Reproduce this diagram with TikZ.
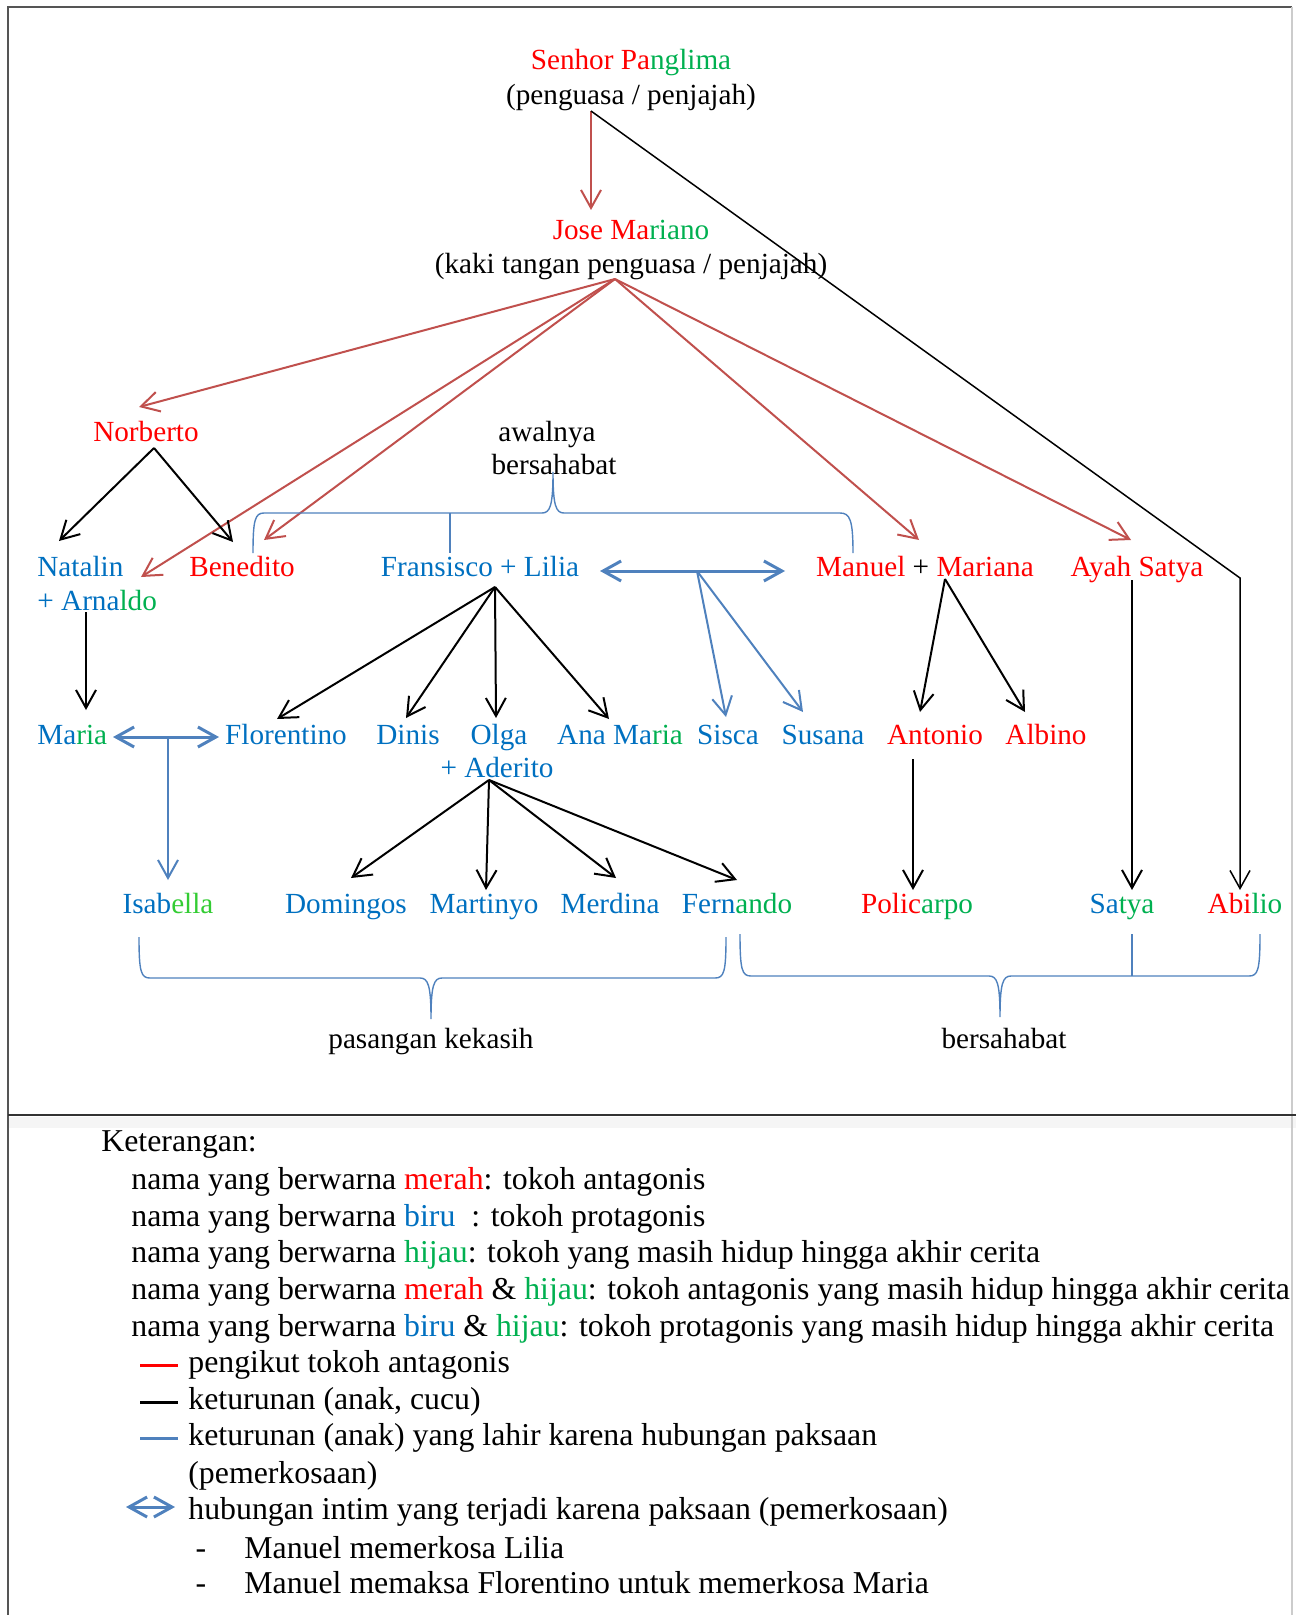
\documentclass[tikz,border=0pt]{standalone}
\usepackage{fontspec}
\setmainfont{Liberation Serif}
\usetikzlibrary{arrows.meta}
\definecolor{tred}{HTML}{FF0000}
\definecolor{tgreen}{HTML}{00B050}
\definecolor{tgreenb}{HTML}{33CC33}
\definecolor{tblue}{HTML}{0070C0}
\definecolor{lred}{HTML}{C0504D}
\definecolor{lblue}{HTML}{4F81BD}
\definecolor{framegray}{HTML}{555555}
\begin{document}
\begin{tikzpicture}[x=0.5pt,y=-0.5pt,
  every node/.style={inner sep=0pt, font=\fontsize{14.6}{17.5}\selectfont},
  lbl/.style={anchor=mid, yshift=-2.5pt},
  lblw/.style={anchor=mid west, yshift=-2.5pt},
  legw/.style={anchor=mid west, yshift=-2.5pt, font=\fontsize{15.9}{19}\selectfont},
  legc/.style={anchor=mid, yshift=-2.5pt, font=\fontsize{15.9}{19}\selectfont},
  openarr/.style={-{Straight Barb[length=9pt,width=10pt]}},
  redarr/.style={openarr, draw=lred, line width=1pt},
  blkarr/.style={openarr, draw=black, line width=1pt},
  bluearr/.style={openarr, draw=lblue, line width=1pt},
  dblblue/.style={{Straight Barb[length=9pt,width=10pt]}-{Straight Barb[length=9pt,width=10pt]}, draw=lblue, line width=1.5pt},
  bracepath/.style={draw=lblue, line width=0.7pt},
]
\useasboundingbox (0,0) rectangle (1296,1615);
% frame
\fill[gray!8] (9,1117) rectangle (1296,1128);
\draw[framegray, line width=1pt] (8,1615) -- (8,7) -- (1292,7);
\draw[gray!40, line width=1pt] (1292,7) -- (1292,1615);
\draw[black!80, line width=1pt] (8,1115) -- (1296,1115);

% nodes
\node[lbl] (senhor) at (631,60) {\textcolor{tred}{Senhor Pa}\textcolor{tgreen}{nglima}};
\node[lbl] (senhorsub) at (631,95) {(penguasa / penjajah)};
\node[lbl] (jose) at (631,230) {\textcolor{tred}{Jose Ma}\textcolor{tgreen}{riano}};
\node[lbl] (josesub) at (631,264) {(kaki tangan penguasa / penjajah)};
\node[lbl] (norberto) at (146,432) {\textcolor{tred}{Norberto}};
\node[lbl] (awal1) at (547,432) {awalnya};
\node[lbl] (awal2) at (554,465) {bersahabat};
\node[lblw] (natalin) at (37,567) {\textcolor{tblue}{Natalin}};
\node[lblw] (arnaldo) at (37,601) {\textcolor{tblue}{+ Arna}\textcolor{tgreen}{ldo}};
\node[lbl] (benedito) at (242,567) {\textcolor{tred}{Benedito}};
\node[lbl] (fransisco) at (480,567) {\textcolor{tblue}{Fransisco + Lilia}};
\node[lbl] (manuel) at (925,567) {\textcolor{tred}{Manuel} + \textcolor{tred}{Mariana}};
\node[lbl] (ayah) at (1137,567) {\textcolor{tred}{Ayah Satya}};

\node[lblw] (maria) at (37,735) {\textcolor{tblue}{Ma}\textcolor{tgreen}{ria}};
\node[lbl] (florentino) at (286,735) {\textcolor{tblue}{Florentino}};
\node[lbl] (dinis) at (408,735) {\textcolor{tblue}{Dinis}};
\node[lbl] (olga) at (499,735) {\textcolor{tblue}{Olga}};
\node[lbl] (aderito) at (497,768) {\textcolor{tblue}{+ Aderito}};
\node[lbl] (anamaria) at (620,735) {\textcolor{tblue}{Ana Ma}\textcolor{tgreen}{ria}};
\node[lbl] (sisca) at (728,735) {\textcolor{tblue}{Sisca}};
\node[lbl] (susana) at (823,735) {\textcolor{tblue}{Susana}};
\node[lbl] (antonio) at (935,735) {\textcolor{tred}{Antonio}};
\node[lbl] (albino) at (1046,735) {\textcolor{tred}{Albino}};

\node[lbl] (isabella) at (168,904) {\textcolor{tblue}{Isab}\textcolor{tgreenb}{ella}};
\node[lbl] (domingos) at (346,904) {\textcolor{tblue}{Domingos}};
\node[lbl] (martinyo) at (484,904) {\textcolor{tblue}{Martinyo}};
\node[lbl] (merdina) at (610,904) {\textcolor{tblue}{Merdina}};
\node[lbl] (fernando) at (737,904) {\textcolor{tblue}{Fern}\textcolor{tgreen}{ando}};
\node[lbl] (policarpo) at (917,904) {\textcolor{tred}{Polic}\textcolor{tgreen}{arpo}};
\node[lbl] (satya) at (1122,904) {\textcolor{tblue}{Sa}\textcolor{tgreen}{tya}};
\node[lbl] (abilio) at (1245,904) {\textcolor{tred}{Abi}\textcolor{tgreen}{lio}};

\node[lbl] (pasangan) at (431,1039) {pasangan kekasih};
\node[lbl] (sahabat) at (1004,1039) {bersahabat};

% connector end points
\coordinate (senhor-out) at (591,111);
\coordinate (jose-in) at (591,210);
\coordinate (jose-out) at (615,279);
\coordinate (norberto-in) at (139,407);
\coordinate (natalin-in) at (141,577);
\coordinate (benedito-in) at (264,540);
\coordinate (manuel-in) at (919,540);
\coordinate (ayah-in) at (1131,540);
\coordinate (abilio-bend) at (1240,578);
\coordinate (abilio-in) at (1240,890);
\coordinate (norberto-out) at (154,448);
\coordinate (natalin-top) at (59,541);
\coordinate (benedito-top) at (233,542);
\coordinate (arnaldo-out) at (86,612);
\coordinate (maria-in) at (86,710);
\coordinate (fran-out) at (495,587);
\coordinate (florentino-in) at (277,719);
\coordinate (dinis-in) at (406,718);
\coordinate (olga-in) at (496,718);
\coordinate (anamaria-in) at (609,719);
\coordinate (lilia-r) at (600,571);
\coordinate (manuel-l) at (785,571);
\coordinate (rape1) at (697,571);
\coordinate (sisca-in) at (726,717);
\coordinate (susana-in) at (803,712);
\coordinate (manuel-out) at (945,579);
\coordinate (antonio-in) at (920,712);
\coordinate (albino-in) at (1025,712);
\coordinate (ayah-out) at (1132,580);
\coordinate (satya-in) at (1132,890);
\coordinate (antonio-out) at (913,759);
\coordinate (policarpo-in) at (913,890);
\coordinate (aderito-out) at (489,780);
\coordinate (domingos-in) at (351,878);
\coordinate (martinyo-in) at (486,890);
\coordinate (merdina-in) at (616,878);
\coordinate (fernando-in) at (737,880);
\coordinate (maria-r) at (113,737);
\coordinate (florentino-l) at (219,737);
\coordinate (rape2) at (168,737);
\coordinate (isabella-in) at (168,880);

% red: followers
\draw[redarr] (senhor-out) -- (jose-in);
\draw[redarr] (jose-out) -- (norberto-in);
\draw[redarr] (jose-out) -- (natalin-in);
\draw[redarr] (jose-out) -- (benedito-in);
\draw[redarr] (jose-out) -- (manuel-in);
\draw[redarr] (jose-out) -- (ayah-in);
% black: descendants
\draw[openarr, line width=0.75pt] (senhor-out) -- (abilio-bend) -- (abilio-in);
\draw[blkarr] (norberto-out) -- (natalin-top);
\draw[blkarr] (norberto-out) -- (benedito-top);
\draw[blkarr] (arnaldo-out) -- (maria-in);
\draw[blkarr] (fran-out) -- (florentino-in);
\draw[blkarr] (fran-out) -- (dinis-in);
\draw[blkarr] (fran-out) -- (olga-in);
\draw[blkarr] (fran-out) -- (anamaria-in);
\draw[blkarr] (manuel-out) -- (antonio-in);
\draw[blkarr] (manuel-out) -- (albino-in);
\draw[blkarr] (ayah-out) -- (satya-in);
\draw[blkarr] (antonio-out) -- (policarpo-in);
\draw[blkarr] (aderito-out) -- (domingos-in);
\draw[blkarr] (aderito-out) -- (martinyo-in);
\draw[blkarr] (aderito-out) -- (merdina-in);
\draw[blkarr] (aderito-out) -- (fernando-in);
% blue: forced relations
\draw[dblblue] (lilia-r) -- (manuel-l);
\draw[bluearr] (rape1) -- (sisca-in);
\draw[bluearr] (rape1) -- (susana-in);
\draw[dblblue] (maria-r) -- (florentino-l);
\draw[bluearr] (rape2) -- (isabella-in);

% braces
\draw[bracepath] (253,553) .. controls (253,520) and (255,513) .. (264,513) -- (542,513)
  .. controls (550,513) and (553,506) .. (553,472)
  .. controls (553,506) and (556,513) .. (564,513) -- (840,513)
  .. controls (850,513) and (853,520) .. (853,553);
\draw[bracepath] (450,513) -- (450,553);
\draw[bracepath] (139,937) .. controls (139,972) and (141,978) .. (150,978) -- (420,978)
  .. controls (428,978) and (431,985) .. (431,1019)
  .. controls (431,985) and (434,978) .. (442,978) -- (715,978)
  .. controls (724,978) and (726,972) .. (726,937);
\draw[bracepath] (740,934) .. controls (740,970) and (742,976) .. (751,976) -- (989,976)
  .. controls (997,976) and (1000,983) .. (1000,1017)
  .. controls (1000,983) and (1003,976) .. (1011,976) -- (1249,976)
  .. controls (1258,976) and (1260,970) .. (1260,934);
\draw[bracepath] (1132,934) -- (1132,976);

% legend
\node[legw] (ket) at (101,1142) {Keterangan:};
\node[legw] (l1) at (131,1180) {nama yang berwarna \textcolor{tred}{merah}: tokoh antagonis};
\node[legw] (l2) at (131,1217) {nama yang berwarna \textcolor{tblue}{biru}\ \ : tokoh protagonis};
\node[legw] (l3) at (131,1253) {nama yang berwarna \textcolor{tgreen}{hijau}: tokoh yang masih hidup hingga akhir cerita};
\node[legw] (l4) at (131,1290) {nama yang berwarna \textcolor{tred}{merah} \& \textcolor{tgreen}{hijau}: tokoh antagonis yang masih hidup hingga akhir cerita};
\node[legw] (l5) at (131,1327) {nama yang berwarna \textcolor{tblue}{biru} \& \textcolor{tgreen}{hijau}: tokoh protagonis yang masih hidup hingga akhir cerita};
\draw[tred, line width=1.5pt] (140,1365) -- (178,1365);
\node[legw] (k1) at (188,1363) {pengikut tokoh antagonis};
\draw[black, line width=1.5pt] (140,1402) -- (178,1402);
\node[legw] (k2) at (188,1400) {keturunan (anak, cucu)};
\draw[lblue, line width=1.5pt] (140,1438) -- (178,1438);
\node[legw] (k3) at (188,1436) {keturunan (anak) yang lahir karena hubungan paksaan};
\node[legw] (k3b) at (188,1474) {(pemerkosaan)};
\draw[dblblue] (126,1507) -- (175,1507);
\node[legw] (k4) at (188,1510) {hubungan intim yang terjadi karena paksaan (pemerkosaan)};
\node[legc] (d1) at (201,1549) {-};
\node[legw] (k5) at (244,1549) {Manuel memerkosa Lilia};
\node[legc] (d2) at (201,1584) {-};
\node[legw] (k6) at (244,1584) {Manuel memaksa Florentino untuk memerkosa Maria};
\end{tikzpicture}
\end{document}
